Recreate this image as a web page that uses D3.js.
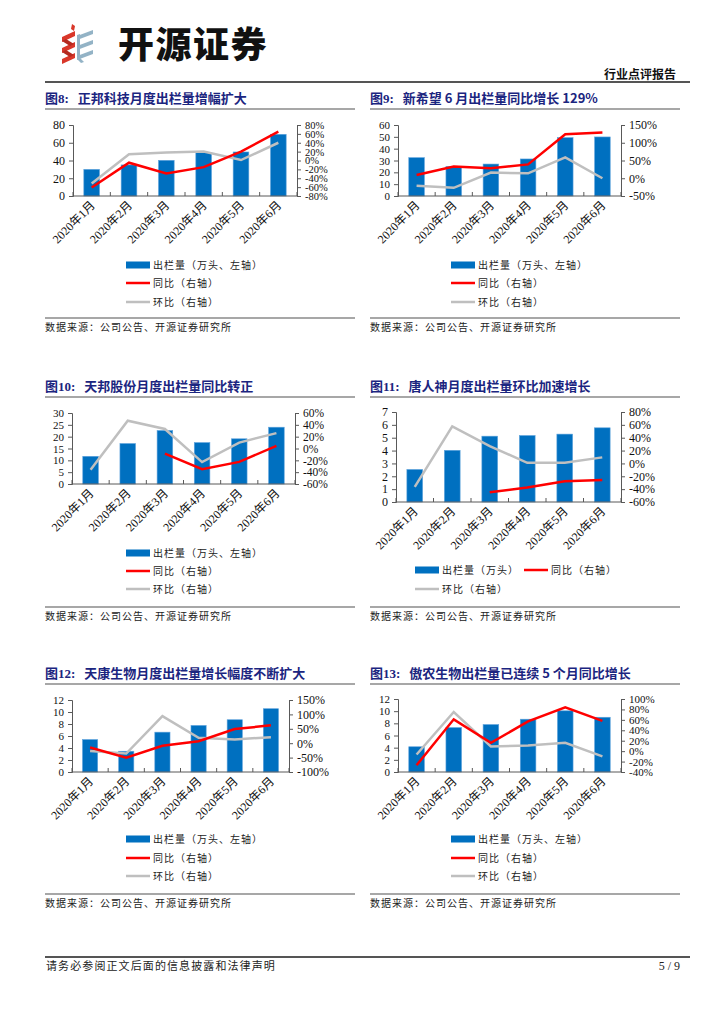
<!DOCTYPE html>
<html><head><meta charset="utf-8">
<script src="https://cdn.jsdelivr.net/npm/d3@7"></script>
<style>
body{margin:0;background:#fff;}
svg{display:block;}
</style></head>
<body>
<svg id="page" width="724" height="1024"></svg>
<script>
// ---------- data ----------
const months = ["2020年1月","2020年2月","2020年3月","2020年4月","2020年5月","2020年6月"];

// 图8 正邦科技
const zbOut = [30, 35, 40.2, 48.8, 49.6, 69.5];
const zbYoy = [-61, -5, -29, -15, 20, 65];
const zbMom = [-52, 14, 18, 20, 1, 40];
const zbLeftTicks = [0, 20, 40, 60, 80];
const zbRightTicks = [-80, -60, -40, -20, 0, 20, 40, 60, 80];

// 图9 新希望
const xxwOut = [32.4, 25, 27, 31.3, 49.3, 49.9];
const xxwYoy = [9, 33, 28, 39, 124, 129];
const xxwMom = [-21, -27, 16, 14, 59, 0];
const xxwLeftTicks = [0, 10, 20, 30, 40, 50, 60];
const xxwRightTicks = [-50, 0, 50, 100, 150];

// 图10 天邦股份
const tbOut = [11.7, 17.1, 22.6, 17.5, 19.1, 24];
const tbYoy = [null, null, -8.5, -35, -22.6, 4.5];
const tbMom = [-36, 47, 33, -23, 10, 26];
const tbLeftTicks = [0, 5, 10, 15, 20, 25, 30];
const tbRightTicks = [-60, -40, -20, 0, 20, 40, 60];

// 图11 唐人神
const trsOut = [2.53, 4.02, 5.12, 5.17, 5.28, 5.77];
const trsYoy = [null, null, -45, -37.6, -27.7, -25.6];
const trsMom = [-36.6, 57.5, 27, 1, 1, 9.4];
const trsLeftTicks = [0, 1, 2, 3, 4, 5, 6, 7];
const trsRightTicks = [-60, -40, -20, 0, 20, 40, 60, 80];

// 图12 天康生物
const tkOut = [5.41, 3.46, 6.64, 7.76, 8.71, 10.55];
const tkYoy = [-15, -50, -9, 7, 49, 62];
const tkMom = [-27, -36, 94, 19, 13, 21];
const tkLeftTicks = [0, 2, 4, 6, 8, 10, 12];
const tkRightTicks = [-100, -50, 0, 50, 100, 150];

// 图13 傲农生物
const anOut = [4.15, 7.3, 7.8, 8.68, 10.06, 9.0];
const anYoy = [-27, 61, 16, 57, 84, 58];
const anMom = [-6.5, 75, 9, 11, 16, -10];
const anLeftTicks = [0, 2, 4, 6, 8, 10, 12];
const anRightTicks = [-40, -20, 0, 20, 40, 60, 80, 100];

const legendFull = ["出栏量（万头、左轴）", "同比（右轴）", "环比（右轴）"];
const legendShort = ["出栏量（万头）", "同比（右轴）", "环比（右轴）"];
const sourceText = "数据来源：公司公告、开源证券研究所";

// ---------- styles ----------
const BAR = "#0070C0", RED = "#FF0000", GRAY = "#BFBFBF", AXIS = "#595959", NAVY = "#1b2580";
const SERIF = "'Liberation Serif','Noto Sans CJK SC',serif";
const CJK = "'Noto Sans CJK SC',sans-serif";

const svg = d3.select("#page");

// ---------- header ----------
const hdr = svg.append("g");
// logo: red folded ribbon
const RED_L = "#d9372a", BLUE_L = "#93b3c6";
hdr.append("path").attr("d","M72,24 L75,26 L74,31 L71,29 Z").attr("fill",RED_L);
[33, 44, 55].forEach(y=>{
  hdr.append("path").attr("d",`M62,${y+4} L75,${y-2} L75,${y+3} L62,${y+9} Z`).attr("fill",RED_L);
});
[38, 49].forEach(y=>{
  hdr.append("path").attr("d",`M62,${y+3} L66,${y+1} L74,${y+6} L70,${y+8} Z`).attr("fill","#b52a20");
});
// blue ribbon
[32, 42, 52].forEach(y=>{
  hdr.append("path").attr("d",`M77,${y+4} L93,${y-2} L93,${y+2} L77,${y+8} Z`).attr("fill",BLUE_L);
});
hdr.append("path").attr("d","M77,35 L80,34 L80,58 L84,62 L81,63 L77,59 Z").attr("fill",BLUE_L);
hdr.append("text").attr("x",118).attr("y",58).attr("font-family",CJK).attr("font-weight","900")
  .attr("font-size",36).attr("fill","#111").attr("letter-spacing",1.5).text("开源证券");
hdr.append("text").attr("x",676).attr("y",79).attr("text-anchor","end").attr("font-family",CJK)
  .attr("font-weight","bold").attr("font-size",12).attr("fill","#111").text("行业点评报告");
hdr.append("line").attr("x1",45).attr("x2",690).attr("y1",82).attr("y2",82).attr("stroke","#555").attr("stroke-width",2);

// ---------- footer ----------
svg.append("line").attr("x1",45).attr("x2",690).attr("y1",957).attr("y2",957).attr("stroke","#555").attr("stroke-width",2);
svg.append("text").attr("x",46).attr("y",970).attr("font-family",CJK).attr("font-size",11).attr("fill","#222")
  .attr("letter-spacing",1.1).text("请务必参阅正文后面的信息披露和法律声明");
svg.append("text").attr("x",680).attr("y",970).attr("text-anchor","end").attr("font-family",SERIF).attr("font-size",12)
  .attr("fill","#222").text("5 / 9");

// ---------- chart builder ----------
function drawChart(c){
  const g = svg.append("g");
  // title
  const t = g.append("text").attr("x",c.tx).attr("y",c.titleY).attr("font-family",SERIF)
     .attr("font-weight","bold").attr("font-size",13).attr("fill",NAVY);
  t.append("tspan").text(c.num);
  t.append("tspan").attr("dx",6).attr("font-family",CJK).text(c.title);
  g.append("line").attr("x1",c.tx).attr("x2",c.tx+310).attr("y1",c.lineY).attr("y2",c.lineY)
    .attr("stroke","#8a8a8a").attr("stroke-width",1.5);

  const x = d3.scaleBand().domain(months).range([c.L, c.R]).paddingInner(0.58).paddingOuter(0.29);
  const yL = d3.scaleLinear().domain([c.lt[0], c.lt[c.lt.length-1]]).range([c.B, c.T]);
  const yR = d3.scaleLinear().domain([c.rt[0], c.rt[c.rt.length-1]]).range([c.B, c.T]);

  // bars
  g.selectAll("rect.bar").data(c.out).enter().append("rect")
    .attr("x",(d,i)=>x(months[i])).attr("width",x.bandwidth())
    .attr("y",d=>yL(d)).attr("height",d=>c.B-yL(d))
    .attr("fill",BAR).attr("stroke","#5fa3dc").attr("stroke-width",0.6);

  // axes
  const axL = d3.axisLeft(yL).tickValues(c.lt).tickSize(4).tickPadding(4).tickFormat(d3.format("d"));
  const gl = g.append("g").attr("transform",`translate(${c.L},0)`).call(axL);
  const axR = d3.axisRight(yR).tickValues(c.rt).tickSize(4).tickPadding(4).tickFormat(d=>d+"%");
  const gr = g.append("g").attr("transform",`translate(${c.R},0)`).call(axR);
  [[gl,c.lfs||12],[gr,c.rfs||12]].forEach(([a,fs])=>{
    a.select(".domain").attr("stroke",AXIS);
    a.selectAll(".tick line").attr("stroke",AXIS);
    a.selectAll("text").attr("font-family",SERIF).attr("font-size",fs).attr("fill","#111");
  });
  // x axis line and boundary ticks
  g.append("line").attr("x1",c.L).attr("x2",c.R).attr("y1",c.B).attr("y2",c.B).attr("stroke",AXIS);
  const step = x.step();
  d3.range(7).forEach(i=>{
    const xx = c.L + i*step;
    g.append("line").attr("x1",xx).attr("x2",xx).attr("y1",c.B).attr("y2",c.B-4).attr("stroke",AXIS);
  });
  // x labels
  g.selectAll("text.xl").data(months).enter().append("text")
    .attr("transform",d=>`translate(${x(d)+x.bandwidth()/2+4},${c.B+10}) rotate(-45)`)
    .attr("text-anchor","end").attr("font-family",SERIF).attr("font-size",12).attr("fill","#111")
    .text(d=>d);

  // lines
  const cx = i => x(months[i]) + x.bandwidth()/2;
  const line = d3.line().defined(d=>d!=null).x((d,i)=>cx(i)).y(d=>yR(d));
  g.append("path").datum(c.mom).attr("d",line).attr("fill","none").attr("stroke",GRAY).attr("stroke-width",2.5);
  g.append("path").datum(c.yoy).attr("d",line).attr("fill","none").attr("stroke",RED).attr("stroke-width",2.5);

  // legend
  c.legend.forEach(it=>{
    const lg = g.append("g");
    if(it.type==="bar"){
      lg.append("rect").attr("x",it.x).attr("y",it.y-3.5).attr("width",24).attr("height",7).attr("fill",BAR);
    } else {
      lg.append("line").attr("x1",it.x).attr("x2",it.x+24).attr("y1",it.y).attr("y2",it.y)
        .attr("stroke",it.type==="red"?RED:GRAY).attr("stroke-width",2.5);
    }
    lg.append("text").attr("x",it.x+27).attr("y",it.y+4).attr("font-family",CJK).attr("font-size",10)
      .attr("letter-spacing",1).attr("fill","#222").text(it.label);
  });

  // bottom separator + source
  g.append("line").attr("x1",c.tx).attr("x2",c.tx+310).attr("y1",c.sepY).attr("y2",c.sepY)
    .attr("stroke","#8a8a8a").attr("stroke-width",1.5);
  g.append("text").attr("x",c.tx).attr("y",c.srcY).attr("font-family",CJK).attr("font-size",10)
    .attr("letter-spacing",1).attr("fill","#222").text(sourceText);
}

function stdLegend(x, ys){
  return [
    {type:"bar", x:x, y:ys[0], label:legendFull[0]},
    {type:"red", x:x, y:ys[1], label:legendFull[1]},
    {type:"gray",x:x, y:ys[2], label:legendFull[2]}
  ];
}

drawChart({num:"图8:", title:" 正邦科技月度出栏量增幅扩大", tx:45, titleY:103, lineY:109,
  L:73, R:297, T:125, B:196, lt:zbLeftTicks, rt:zbRightTicks, rfs:10.5, out:zbOut, yoy:zbYoy, mom:zbMom,
  legend:stdLegend(126,[265,283,302]), sepY:318, srcY:331});

drawChart({num:"图9:", title:" 新希望 6 月出栏量同比增长 129%", tx:370, titleY:103, lineY:109,
  L:398, R:621, T:125, B:196, lt:xxwLeftTicks, rt:xxwRightTicks, lfs:11, out:xxwOut, yoy:xxwYoy, mom:xxwMom,
  legend:stdLegend(451,[265,283,302]), sepY:318, srcY:331});

drawChart({num:"图10:", title:" 天邦股份月度出栏量同比转正", tx:45, titleY:391, lineY:397,
  L:72, R:295, T:413, B:484, lt:tbLeftTicks, rt:tbRightTicks, lfs:11, rfs:11.5, out:tbOut, yoy:tbYoy, mom:tbMom,
  legend:stdLegend(126,[553,571,589]), sepY:607, srcY:620});

drawChart({num:"图11:", title:" 唐人神月度出栏量环比加速增长", tx:370, titleY:391, lineY:397,
  L:396, R:621, T:412, B:502, lt:trsLeftTicks, rt:trsRightTicks, out:trsOut, yoy:trsYoy, mom:trsMom,
  legend:[
    {type:"bar", x:415, y:570, label:legendShort[0]},
    {type:"red", x:524, y:570, label:legendShort[1]},
    {type:"gray",x:415, y:589, label:legendShort[2]}
  ], sepY:607, srcY:620});

drawChart({num:"图12:", title:" 天康生物月度出栏量增长幅度不断扩大", tx:45, titleY:678, lineY:684,
  L:72, R:289, T:700, B:772, lt:tkLeftTicks, rt:tkRightTicks, lfs:11, out:tkOut, yoy:tkYoy, mom:tkMom,
  legend:stdLegend(126,[839,858,876]), sepY:894, srcY:907});

drawChart({num:"图13:", title:" 傲农生物出栏量已连续 5 个月同比增长", tx:370, titleY:678, lineY:684,
  L:398, R:621, T:699, B:772, lt:anLeftTicks, rt:anRightTicks, lfs:11, rfs:11, out:anOut, yoy:anYoy, mom:anMom,
  legend:stdLegend(451,[839,858,876]), sepY:894, srcY:907});
</script>
</body></html>
